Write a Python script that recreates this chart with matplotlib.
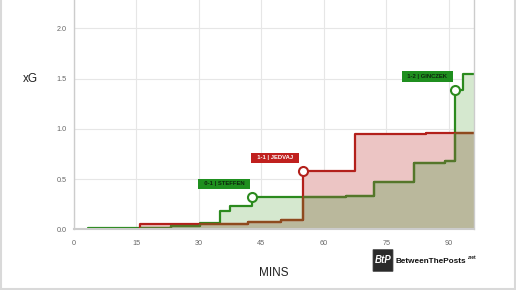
import matplotlib
matplotlib.use("Agg")
import numpy as np
import matplotlib.pyplot as plt
from matplotlib.patches import FancyBboxPatch
from matplotlib.lines import Line2D

# ---- data ----
green_minutes = [3.5, 23.3, 30.4, 35.1, 37.6, 42.8, 65.4, 72.1, 81.7, 89.0, 91.5, 93.4]
green_xg      = [0.01, 0.03, 0.06, 0.18, 0.23, 0.32, 0.33, 0.47, 0.66, 0.68, 1.39, 1.55]
red_minutes   = [16.0, 41.9, 49.8, 55.0, 67.5, 84.4]
red_xg        = [0.05, 0.07, 0.09, 0.58, 0.95, 0.96]
end_minute    = 96.0

goal_labels   = ["0-1 | STEFFEN", "1-1 | JEDVAJ", "1-2 | GINCZEK"]
goal_minutes  = [42.8, 55.0, 91.5]
goal_xg       = [0.32, 0.58, 1.39]
goal_team     = ["green", "red", "green"]

x_ticks = [0, 15, 30, 45, 60, 75, 90]
y_ticks = [0.0, 0.5, 1.0, 1.5, 2.0]

GREEN = "#2b8a1e"
RED = "#b3201b"
GREEN_UNDER = "#55762a"   # green line seen through red area
RED_UNDER = "#8e4a1e"     # red line seen through green area
GREEN_FILL = "#d5e8cf"
RED_FILL = "#ecc5c4"
BOTH_FILL = "#bab89c"
GREEN_BOX = "#1f8f1f"
RED_BOX = "#c0201e"

plt.rcParams['font.family'] = ['Liberation Sans', 'DejaVu Sans']

W, H = 516, 290
fig = plt.figure(figsize=(W / 100, H / 100), dpi=100)
fig.patch.set_facecolor("white")
ax = fig.add_axes([73.7 / W, 1 - 229.3 / H, (474 - 73.7) / W, 229.3 / H])

gx = green_minutes + [end_minute]
gy = green_xg + [green_xg[-1]]
rx = red_minutes + [end_minute]
ry = red_xg + [red_xg[-1]]

# common step grid for region fills
grid_t = np.array(sorted(set([0.0] + gx + rx)))
def step_at(ts, vs, t):
    out = np.zeros_like(t)
    for tt, vv in zip(ts, vs):
        out[t >= tt] = vv
    return out
g_on = step_at(green_minutes, green_xg, grid_t)
r_on = step_at(red_minutes, red_xg, grid_t)
low = np.minimum(g_on, r_on)

ax.fill_between(grid_t, g_on, low, step="post", color=GREEN_FILL, lw=0, zorder=1)
ax.fill_between(grid_t, r_on, low, step="post", color=RED_FILL, lw=0, zorder=1)
ax.fill_between(grid_t, low, 0, step="post", color=BOTH_FILL, lw=0, zorder=1.1)

# clip regions (area under each team's curve)
g_area = ax.fill_between(gx, gy, 0, step="post", color="none", lw=0)
r_area = ax.fill_between(rx, ry, 0, step="post", color="none", lw=0)

# lines
ax.plot([gx[0]] + gx, [0] + gy, drawstyle="steps-post", color=GREEN, lw=1.6, zorder=2)
ax.plot([rx[0]] + rx, [0] + ry, drawstyle="steps-post", color=RED, lw=1.6, zorder=2)
# tinted parts of each line where it runs inside the other team's area
gl2, = ax.plot([gx[0]] + gx, [0] + gy, drawstyle="steps-post", color=GREEN_UNDER, lw=1.6, zorder=2.1)
gl2.set_clip_path(r_area.get_paths()[0], ax.transData)
rl2, = ax.plot([rx[0]] + rx, [0] + ry, drawstyle="steps-post", color=RED_UNDER, lw=1.6, zorder=2.1)
rl2.set_clip_path(g_area.get_paths()[0], ax.transData)

# goals
for lab, t, v, team in zip(goal_labels, goal_minutes, goal_xg, goal_team):
    col = GREEN if team == "green" else RED
    ax.plot([t], [v], marker="o", ms=6.5, mfc="white", mec=col, mew=1.5, zorder=5)
    ax.annotate("  " + lab + "  ", xy=(t, v), xytext=(-20, 9.5), textcoords="offset points",
                ha="center", va="center", fontsize=4.2, fontweight="bold",
                color=("#0d260d" if team == "green" else "white"),
                bbox=dict(boxstyle="square,pad=0.45", fc=(GREEN_BOX if team == "green" else RED_BOX), ec="none"),
                zorder=6)

ax.set_xlim(0, end_minute)
ax.set_ylim(0, 229.3 / 100.5)
ax.set_xticks(x_ticks)
ax.set_yticks(y_ticks)
ax.set_yticklabels([f"{v:.1f}" for v in y_ticks])
ax.tick_params(length=0, labelsize=5.2, colors="#666666")
ax.tick_params(axis="x", pad=8)
ax.tick_params(axis="y", pad=5)
ax.grid(True, color="#e6e6e6", lw=0.8, zorder=0)
ax.set_axisbelow(True)
ax.spines["top"].set_visible(False)
for s in ["left", "right"]:
    ax.spines[s].set_color("#cccccc")
    ax.spines[s].set_linewidth(1.0)
ax.spines["bottom"].set_color("#cccccc")
ax.spines["bottom"].set_linewidth(1.5)

fig.text(30 / W, 1 - 79 / H, "xG", ha="center", va="center", fontsize=8.5, color="#222222")
fig.text(274 / W, 1 - 273 / H, "MINS", ha="center", va="center", fontsize=8.5, color="#222222")

# logo
icon = FancyBboxPatch((374 / W, 1 - 271 / H), 18 / W, 21 / H,
                      boxstyle="round,pad=0.002", transform=fig.transFigure,
                      fc="#2a2a2a", ec="#555555", lw=0.5)
fig.patches.append(icon)
fig.text(383 / W, 1 - 260 / H, "BtP", ha="center", va="center", fontsize=7,
         fontweight="bold", style="italic", color="white")
fig.text(395 / W, 1 - 261.5 / H, "BetweenThePosts", ha="left", va="center", fontsize=5.9,
         fontweight="bold", color="#111111")
fig.text(468 / W, 1 - 257.5 / H, ".net", ha="left", va="center", fontsize=3.4,
         fontweight="bold", color="#111111")

# figure border (left, right, bottom)
bc = "#d9d9d9"
fig.lines.append(Line2D([0.5 / W, 0.5 / W], [0, 1], transform=fig.transFigure, color=bc, lw=1.5))
fig.lines.append(Line2D([1 - 1 / W, 1 - 1 / W], [0, 1], transform=fig.transFigure, color=bc, lw=1.5))
fig.lines.append(Line2D([0, 1], [1.5 / H, 1.5 / H], transform=fig.transFigure, color=bc, lw=1.5))

fig.savefig("out.png", dpi=100)
